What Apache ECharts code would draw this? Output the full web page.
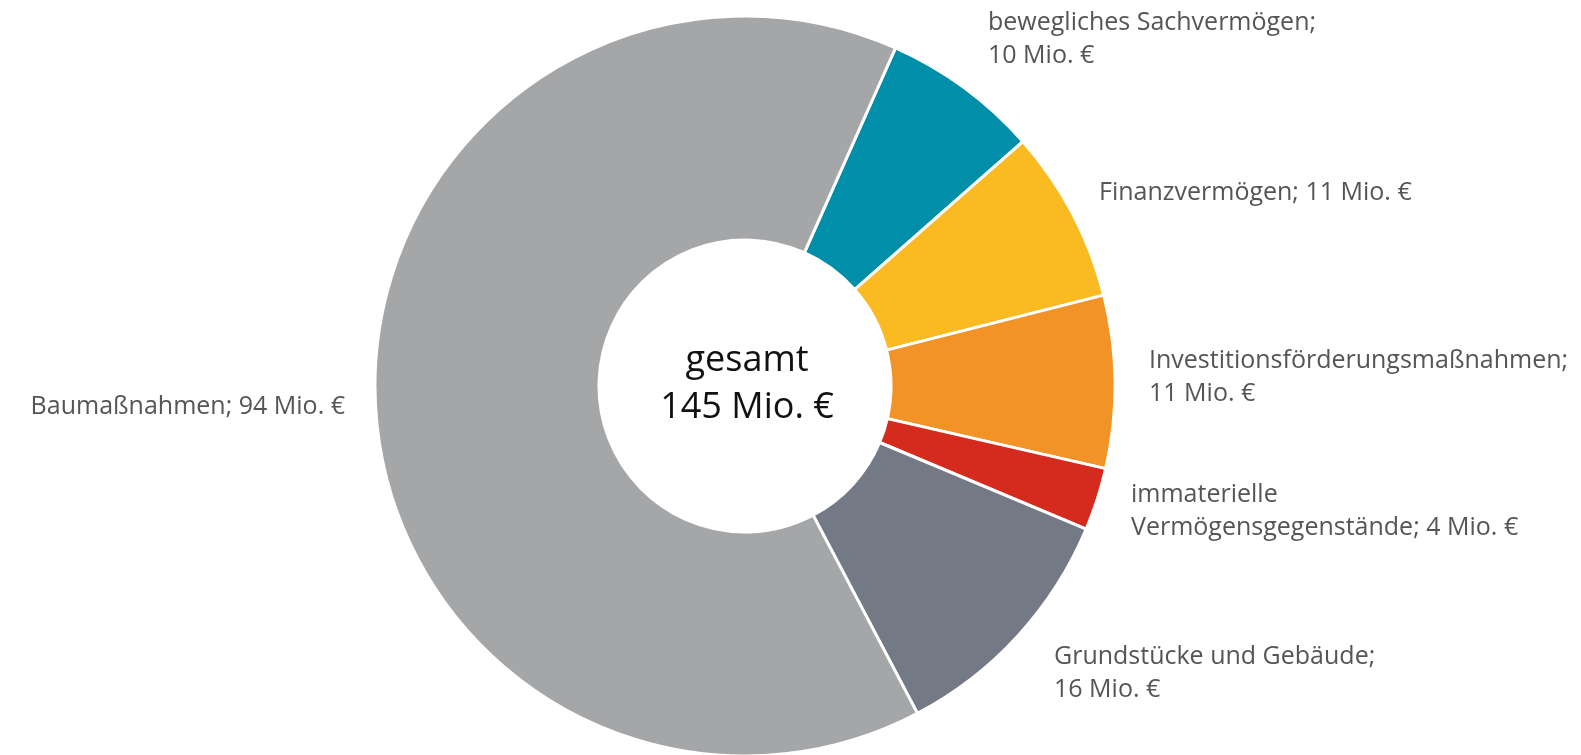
<!DOCTYPE html>
<html>
<head>
<meta charset="utf-8">
<script src="https://cdn.jsdelivr.net/npm/echarts@6/dist/echarts.min.js"></script>
<style>
  html, body { margin: 0; padding: 0; background: #fff; }
  #chart { width: 1581px; height: 755px; }
</style>
</head>
<body>
<div id="chart"></div>
<script>
// Daten (Mio. €), im Uhrzeigersinn ab "bewegliches Sachvermögen"
var categories = ['bewegliches Sachvermögen', 'Finanzvermögen', 'Investitionsförderungsmaßnahmen',
    'immaterielle Vermögensgegenstände', 'Grundstücke und Gebäude', 'Baumaßnahmen'];
var values = [10, 11, 11, 4, 16, 94];
var colors = ['#008ea8', '#f9ba22', '#f29327', '#d52b1e', '#737a86', '#a5a6a8'];
var totalText = ['gesamt', '145 Mio. €'];

// Zeilenumbruch je Beschriftung: 'value' = vor dem Wert, 'word' = nach dem ersten Wort, 'none'
var wrap = ['value', 'none', 'value', 'word', 'value', 'none'];
// Lage der Beschriftungen (links/rechts oben)
var labelPos = [
    {x: 988, y: 6, align: 'left'},
    {x: 1099, y: 176, align: 'left'},
    {x: 1149, y: 344, align: 'left'},
    {x: 1131, y: 478, align: 'left'},
    {x: 1054, y: 640, align: 'left'},
    {x: 345, y: 390, align: 'right'}
];

var myChart = echarts.init(document.getElementById('chart'));

var option = {
    animation: false,
    graphic: [{
        type: 'text',
        x: 747,
        y: 337,
        style: {
            text: totalText.join('\n'),
            font: '36px "Open Sans", "Noto Sans", sans-serif',
            fill: '#111',
            align: 'center',
            verticalAlign: 'top',
            lineHeight: 47
        }
    }],
    series: [{
        type: 'pie',
        silent: true,
        center: [745, 386],
        radius: [146, 370],
        startAngle: 66,
        clockwise: true,
        avoidLabelOverlap: false,
        itemStyle: {
            borderColor: '#fff',
            borderWidth: 3
        },
        label: {
            show: true,
            position: 'outside',
            color: '#555',
            fontFamily: '"Open Sans", "Noto Sans", sans-serif',
            fontSize: 25,
            lineHeight: 33,
            formatter: function (p) {
                var w = wrap[p.dataIndex];
                var name = p.name;
                if (w === 'word') {
                    name = name.replace(' ', '\n');
                }
                return name + ';' + (w === 'value' ? '\n' : ' ') + p.value + ' Mio. €';
            }
        },
        labelLine: { show: false },
        labelLayout: function (params) {
            var pos = labelPos[params.dataIndex];
            return {
                x: pos.x,
                y: pos.y,
                align: pos.align,
                verticalAlign: 'top'
            };
        },
        data: categories.map(function (c, i) {
            return { name: c, value: values[i], itemStyle: { color: colors[i] } };
        })
    }]
};

myChart.setOption(option);
</script>
</body>
</html>
